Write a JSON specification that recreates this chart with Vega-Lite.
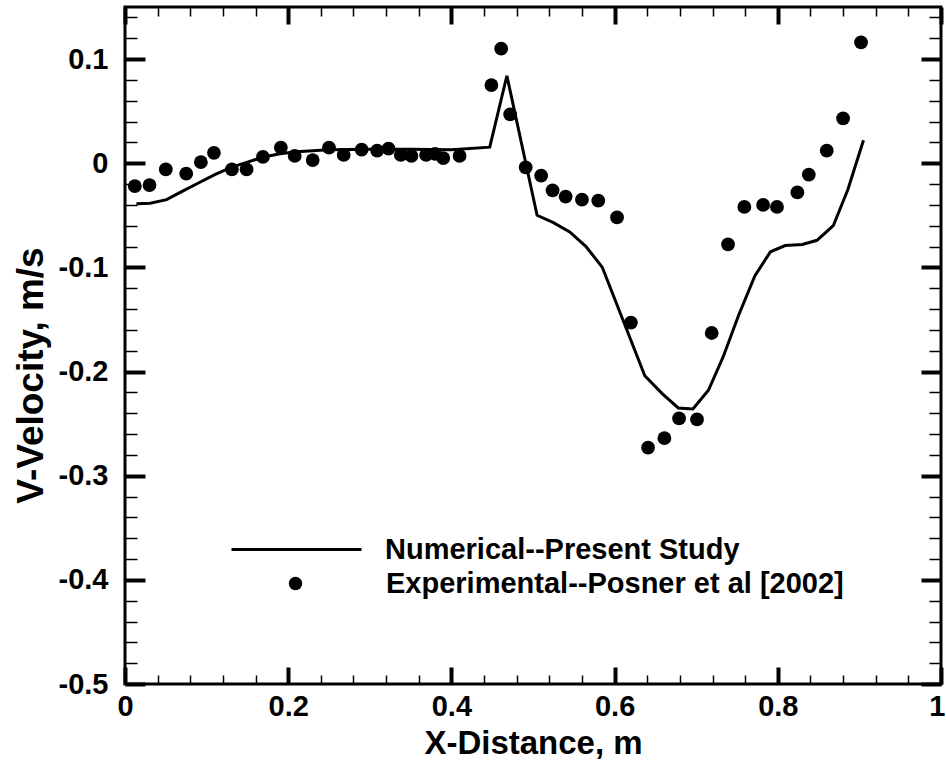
{
  "$schema": "https://vega.github.io/schema/vega-lite/v6.json",
  "autosize": {"type": "none"},
  "width": 816,
  "height": 677,
  "padding": {"left": 125, "top": 7, "right": 5, "bottom": 83},
  "background": "white",
  "config": {
    "view": {"stroke": "black", "strokeWidth": 3},
    "axis": {"domain": false, "grid": false, "labelFont": "Liberation Sans", "labelFontWeight": "bold", "labelFontSize": 29, "labelColor": "black", "titleFont": "Liberation Sans", "titleFontWeight": "bold", "titleColor": "black", "tickColor": "black", "labelFlush": false, "labelOverlap": false, "labelBound": false},
    "legend": {"labelFont": "Liberation Sans", "labelFontWeight": "bold", "labelFontSize": 29, "labelColor": "black", "padding": 0, "offset": 0, "labelLimit": 0}
  },
  "datasets": {
    "numerical": [
      {"x": 0.014, "v": -0.039}, {"x": 0.031, "v": -0.0385}, {"x": 0.051, "v": -0.035}, {"x": 0.07, "v": -0.027},
      {"x": 0.09, "v": -0.019}, {"x": 0.11, "v": -0.011}, {"x": 0.13, "v": -0.004}, {"x": 0.15, "v": 0.001},
      {"x": 0.17, "v": 0.006}, {"x": 0.19, "v": 0.009}, {"x": 0.21, "v": 0.011}, {"x": 0.25, "v": 0.013},
      {"x": 0.3, "v": 0.0135}, {"x": 0.35, "v": 0.0135}, {"x": 0.4, "v": 0.013}, {"x": 0.447, "v": 0.0154},
      {"x": 0.468, "v": 0.084}, {"x": 0.505, "v": -0.05}, {"x": 0.525, "v": -0.057}, {"x": 0.545, "v": -0.066},
      {"x": 0.565, "v": -0.08}, {"x": 0.585, "v": -0.1}, {"x": 0.61, "v": -0.15}, {"x": 0.637, "v": -0.204},
      {"x": 0.658, "v": -0.221}, {"x": 0.678, "v": -0.235}, {"x": 0.696, "v": -0.236}, {"x": 0.715, "v": -0.218},
      {"x": 0.733, "v": -0.186}, {"x": 0.752, "v": -0.146}, {"x": 0.772, "v": -0.108}, {"x": 0.791, "v": -0.085},
      {"x": 0.809, "v": -0.079}, {"x": 0.83, "v": -0.078}, {"x": 0.848, "v": -0.074}, {"x": 0.868, "v": -0.06},
      {"x": 0.886, "v": -0.025}, {"x": 0.905, "v": 0.022}
    ],
    "experimental": [
      {"x": 0.012, "v": -0.022}, {"x": 0.03, "v": -0.021}, {"x": 0.05, "v": -0.006}, {"x": 0.075, "v": -0.01},
      {"x": 0.093, "v": 0.001}, {"x": 0.109, "v": 0.01}, {"x": 0.131, "v": -0.006}, {"x": 0.149, "v": -0.006},
      {"x": 0.169, "v": 0.006}, {"x": 0.191, "v": 0.015}, {"x": 0.208, "v": 0.007}, {"x": 0.23, "v": 0.003},
      {"x": 0.25, "v": 0.015}, {"x": 0.268, "v": 0.008}, {"x": 0.29, "v": 0.013}, {"x": 0.309, "v": 0.012},
      {"x": 0.323, "v": 0.014}, {"x": 0.338, "v": 0.008}, {"x": 0.351, "v": 0.007}, {"x": 0.369, "v": 0.008},
      {"x": 0.38, "v": 0.009}, {"x": 0.39, "v": 0.005}, {"x": 0.41, "v": 0.007}, {"x": 0.449, "v": 0.075},
      {"x": 0.461, "v": 0.11}, {"x": 0.472, "v": 0.047}, {"x": 0.491, "v": -0.004}, {"x": 0.51, "v": -0.012},
      {"x": 0.524, "v": -0.026}, {"x": 0.54, "v": -0.032}, {"x": 0.56, "v": -0.035}, {"x": 0.58, "v": -0.036},
      {"x": 0.603, "v": -0.052}, {"x": 0.62, "v": -0.153}, {"x": 0.641, "v": -0.273}, {"x": 0.661, "v": -0.264},
      {"x": 0.679, "v": -0.245}, {"x": 0.701, "v": -0.246}, {"x": 0.719, "v": -0.163}, {"x": 0.739, "v": -0.078},
      {"x": 0.759, "v": -0.042}, {"x": 0.782, "v": -0.04}, {"x": 0.799, "v": -0.042}, {"x": 0.824, "v": -0.028},
      {"x": 0.838, "v": -0.011}, {"x": 0.86, "v": 0.012}, {"x": 0.88, "v": 0.043}, {"x": 0.902, "v": 0.116}
    ]
  },
  "layer": [
    {
      "data": {"name": "numerical"},
      "mark": {"type": "point", "opacity": 0},
      "encoding": {
        "x": {"field": "x", "type": "quantitative", "scale": {"domain": [0, 1], "nice": false, "zero": false},
          "axis": {"orient": "bottom", "title": null, "labels": false, "tickSize": -9, "tickWidth": 1.5,
            "values": [0.04,0.08,0.12,0.16,0.24,0.28,0.32,0.36,0.44,0.48,0.52,0.56,0.64,0.68,0.72,0.76,0.84,0.88,0.92,0.96]}},
        "y": {"field": "v", "type": "quantitative", "scale": {"domain": [-0.5, 0.15], "nice": false, "zero": false},
          "axis": {"orient": "left", "title": null, "labels": false, "tickSize": -12, "tickWidth": 1.5,
            "values": [-0.48,-0.46,-0.44,-0.42,-0.38,-0.36,-0.34,-0.32,-0.28,-0.26,-0.24,-0.22,-0.18,-0.16,-0.14,-0.12,-0.08,-0.06,-0.04,-0.02,0.02,0.04,0.06,0.08,0.12,0.14]}}
      }
    },
    {
      "data": {"name": "numerical"},
      "mark": {"type": "point", "opacity": 0},
      "encoding": {
        "x": {"field": "x", "type": "quantitative",
          "axis": {"orient": "top", "title": null, "labels": false, "tickSize": -9, "tickWidth": 1.5,
            "values": [0.04,0.08,0.12,0.16,0.24,0.28,0.32,0.36,0.44,0.48,0.52,0.56,0.64,0.68,0.72,0.76,0.84,0.88,0.92,0.96]}},
        "y": {"field": "v", "type": "quantitative",
          "axis": {"orient": "right", "title": null, "labels": false, "tickSize": -12, "tickWidth": 1.5,
            "values": [-0.48,-0.46,-0.44,-0.42,-0.38,-0.36,-0.34,-0.32,-0.28,-0.26,-0.24,-0.22,-0.18,-0.16,-0.14,-0.12,-0.08,-0.06,-0.04,-0.02,0.02,0.04,0.06,0.08,0.12,0.14]}}
      }
    },
    {
      "data": {"name": "numerical"},
      "mark": {"type": "line", "color": "black", "strokeWidth": 3},
      "encoding": {
        "x": {"field": "x", "type": "quantitative",
          "axis": {"orient": "bottom", "title": "X-Distance, m", "titleFontSize": 33, "titlePadding": 6, "labelPadding": 25, "labelFontSize": 29,
            "tickSize": -17, "tickWidth": 4, "values": [0, 0.2, 0.4, 0.6, 0.8, 1],
            "labelAlign": {"condition": {"test": "datum.value >= 0.99", "value": "right"}, "value": "center"},
            "labelOffset": {"condition": {"test": "datum.value >= 0.99", "value": 4}, "value": 0},
            "labelExpr": "'' + round(datum.value*10)/10"}},
        "y": {"field": "v", "type": "quantitative",
          "axis": {"orient": "left", "title": "V-Velocity, m/s", "titleFontSize": 37, "titleX": -83, "titleY": 368, "titleBaseline": "alphabetic", "titleAngle": -90, "titleAlign": "center",
            "labelPadding": 37, "labelFontSize": 29,
            "tickSize": -20, "tickWidth": 4, "values": [-0.5, -0.4, -0.3, -0.2, -0.1, 0, 0.1],
            "labelExpr": "'' + round(datum.value*10)/10"}},
        "color": {"datum": "Numerical--Present Study", "type": "nominal",
          "scale": {"range": ["black"]},
          "legend": {"title": null, "orient": "none", "legendX": 105, "legendY": 476, "symbolType": "stroke", "symbolSize": 16900, "symbolStrokeWidth": 3, "symbolStrokeColor": "black", "labelOffset": 22, "labelLimit": 0}}
      }
    },
    {
      "data": {"name": "experimental"},
      "mark": {"type": "point", "filled": true, "color": "black", "opacity": 1, "size": 190},
      "encoding": {
        "x": {"field": "x", "type": "quantitative",
          "axis": {"orient": "top", "title": null, "labels": false, "tickSize": -17, "tickWidth": 4, "values": [0, 0.2, 0.4, 0.6, 0.8, 1]}},
        "y": {"field": "v", "type": "quantitative",
          "axis": {"orient": "right", "title": null, "labels": false, "tickSize": -20, "tickWidth": 4, "values": [-0.5, -0.4, -0.3, -0.2, -0.1, 0, 0.1]}},
        "shape": {"datum": "Experimental--Posner et al [2002]", "type": "nominal",
          "scale": {"range": ["circle"]},
          "legend": {"title": null, "orient": "none", "legendX": 156, "legendY": 562, "symbolSize": 180, "symbolFillColor": "black", "symbolStrokeColor": "black", "labelOffset": 76, "labelLimit": 0}}
      }
    }
  ],
  "resolve": {"axis": {"x": "independent", "y": "independent"}}
}
